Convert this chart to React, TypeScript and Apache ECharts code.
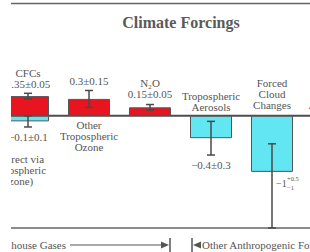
import React, { useEffect, useRef } from "react";
import * as echarts from "echarts";

// ---- data ----
const categories = [
  "CFCs",
  "Other Tropospheric Ozone",
  "N₂O",
  "Tropospheric Aerosols",
  "Forced Cloud Changes",
  "Land Cover Alterations",
];
const warmingValues: (number | string)[] = [0.35, 0.3, 0.15, "-", "-", "-"];
const coolingValues: (number | string)[] = [-0.1, "-", "-", -0.4, -1, -0.2];
const baselineValue = [0];

const errorCategory = [0, 0, 1, 2, 3, 4, 5];
const errorLow = [0.3, -0.2, 0.15, 0.1, -0.7, -2, -0.4];
const errorHigh = [0.4, 0, 0.45, 0.2, -0.1, -0.5, 0];

const labelCategory = [0, 0, 0, 1, 1, 2, 3, 3, 4, 4, 5];
const labelText = [
  "CFCs\n0.35±0.05",
  "−0.1±0.1",
  "(Indirect via\nStratospheric\nOzone)",
  "0.3±0.15",
  "Other\nTropospheric\nOzone",
  "N₂O\n0.15±0.05",
  "Tropospheric\nAerosols",
  "−0.4±0.3",
  "Forced\nCloud\nChanges",
  "−1|+0.5|−1",
  "Land\nCover\nAlterations",
];
const labelAnchor = [0.4, -0.2, -0.2, 0.45, 0, 0.2, 0, -0.7, 0, -1.2, 0];

const titleText = "Climate Forcings";
const groupLeftText = "Greenhouse Gases";
const groupRightText = "Other Anthropogenic Forcings";

// ---- layout (positions / styles) ----
const labelPlace = ["above", "below", "below", "above", "below", "above", "above", "below", "above", "asym", "above"];
const labelDx = [0, 0, -11, 0, 0, 0, 0, 0, 0, 4, 0];
const labelDy = [-4, 5, 27, -4, 4, -5, -3, 4, -5, 0, -5];

const FAM = '"Liberation Serif", "DejaVu Serif", serif';
const f = (size: number, weight = "normal") => `${weight} ${size}px ${FAM}`;
const TXT = "#555";
const RED = "#e8141f";
const CYAN = "#62e6f2";
const EDGE = "#555";

function buildOption() {
  const errorData = errorCategory.map((c, i) => [c, errorLow[i], errorHigh[i]]);
  const labelData = labelCategory.map((c, i) => [c, labelAnchor[i]]);
  return {
    animation: false,
    grid: {
      left: -2.5,
      right: -53.5,
      top: 3.5,
      bottom: 24,
      show: true,
      borderColor: "#666",
      borderWidth: 1.5,
      backgroundColor: "transparent",
      outerBoundsMode: "none",
    },
    xAxis: {
      type: "category",
      data: categories,
      axisLine: { show: false },
      axisTick: { show: false },
      axisLabel: { show: false },
      splitLine: { show: false },
    },
    yAxis: {
      type: "value",
      min: -2,
      max: 2,
      axisLine: { show: false },
      axisTick: { show: false },
      axisLabel: { show: false },
      splitLine: { show: false },
    },
    series: [
      {
        type: "custom",
        name: "baseline",
        data: baselineValue.map((v) => [0, v]),
        encode: { x: 0, y: 1 },
        z: 1,
        renderItem: (params: any, api: any) => {
          const cs = params.coordSys;
          const y = api.coord([0, api.value(1)])[1];
          return {
            type: "rect",
            shape: { x: cs.x, y: y - 1, width: cs.width, height: 2 },
            style: { fill: "#4d4d4d" },
          };
        },
      },
      {
        type: "bar",
        name: "warming",
        stack: "f",
        data: warmingValues,
        barWidth: 42,
        itemStyle: { color: RED, borderColor: EDGE, borderWidth: 1 },
        z: 2,
      },
      {
        type: "bar",
        name: "cooling",
        stack: "f",
        data: coolingValues,
        barWidth: 42,
        itemStyle: { color: CYAN, borderColor: EDGE, borderWidth: 1 },
        z: 2,
      },
      {
        type: "custom",
        name: "errors",
        data: errorData,
        encode: { x: 0, y: [1, 2] },
        z: 5,
        renderItem: (params: any, api: any) => {
          const c = api.value(0);
          const lo = api.coord([c, api.value(1)]);
          const hi = api.coord([c, api.value(2)]);
          const hw = 4;
          const st = { stroke: "#4a4a4a", lineWidth: 1.5 };
          return {
            type: "group",
            children: [
              { type: "line", shape: { x1: lo[0], y1: lo[1], x2: hi[0], y2: hi[1] }, style: st },
              { type: "line", shape: { x1: lo[0] - hw, y1: lo[1], x2: lo[0] + hw, y2: lo[1] }, style: st },
              { type: "line", shape: { x1: hi[0] - hw, y1: hi[1], x2: hi[0] + hw, y2: hi[1] }, style: st },
            ],
          };
        },
      },
      {
        type: "custom",
        name: "labels",
        data: labelData,
        encode: { x: 0, y: 1 },
        z: 6,
        renderItem: (params: any, api: any) => {
          const i = params.dataIndex;
          const p = api.coord([api.value(0), api.value(1)]);
          const x = p[0] + labelDx[i];
          const y = p[1] + labelDy[i];
          const place = labelPlace[i];
          if (place === "asym") {
            const parts = labelText[i].split("|");
            return {
              type: "group",
              children: [
                { type: "text", x, y, style: { text: parts[0], fill: TXT, font: f(10), align: "left", verticalAlign: "middle" } },
                { type: "text", x: x + 11, y: y - 5, style: { text: parts[1], fill: TXT, font: f(6.5), align: "left", verticalAlign: "middle" } },
                { type: "text", x: x + 11, y: y + 4.5, style: { text: parts[2], fill: TXT, font: f(6.5), align: "left", verticalAlign: "middle" } },
              ],
            };
          }
          return {
            type: "text",
            x,
            y,
            style: {
              text: labelText[i],
              fill: TXT,
              font: f(11),
              lineHeight: 11,
              align: "center",
              verticalAlign: place === "above" ? "bottom" : "top",
            },
          };
        },
      },
    ],
    graphic: [
      {
        type: "text",
        x: 181,
        y: 22,
        style: { text: titleText, fill: "#5a5a5a", font: f(16, "bold"), align: "center", verticalAlign: "middle" },
      },
      {
        type: "text",
        x: 66,
        y: 245,
        style: { text: groupLeftText, fill: TXT, font: f(11), align: "right", verticalAlign: "middle" },
      },
      { type: "line", shape: { x1: 70, y1: 245, x2: 164, y2: 245 }, style: { stroke: "#555", lineWidth: 1 } },
      { type: "polygon", shape: { points: [[161, 241.5], [169, 245], [161, 248.5]] }, style: { fill: "#555" } },
      { type: "line", shape: { x1: 170, y1: 238, x2: 170, y2: 252 }, style: { stroke: "#555", lineWidth: 1.5 } },
      { type: "line", shape: { x1: 192, y1: 238, x2: 192, y2: 252 }, style: { stroke: "#555", lineWidth: 1.5 } },
      { type: "polygon", shape: { points: [[193, 245], [201, 241.5], [201, 248.5]] }, style: { fill: "#555" } },
      {
        type: "text",
        x: 202,
        y: 245,
        style: { text: groupRightText, fill: TXT, font: f(11), align: "left", verticalAlign: "middle" },
      },
      { type: "rect", z: 100, shape: { x: 0, y: 0, width: 11, height: 252 }, style: { fill: "#fff" } },
    ],
  };
}

export default function App() {
  const ref = useRef<HTMLDivElement>(null);
  useEffect(() => {
    if (!ref.current) return;
    const chart = echarts.init(ref.current, null, { renderer: "svg" });
    chart.setOption(buildOption() as any);
    return () => chart.dispose();
  }, []);
  return (
    <div
      ref={ref}
      style={{ position: "fixed", left: 0, top: 0, width: 310, height: 252, background: "#fff" }}
    />
  );
}
